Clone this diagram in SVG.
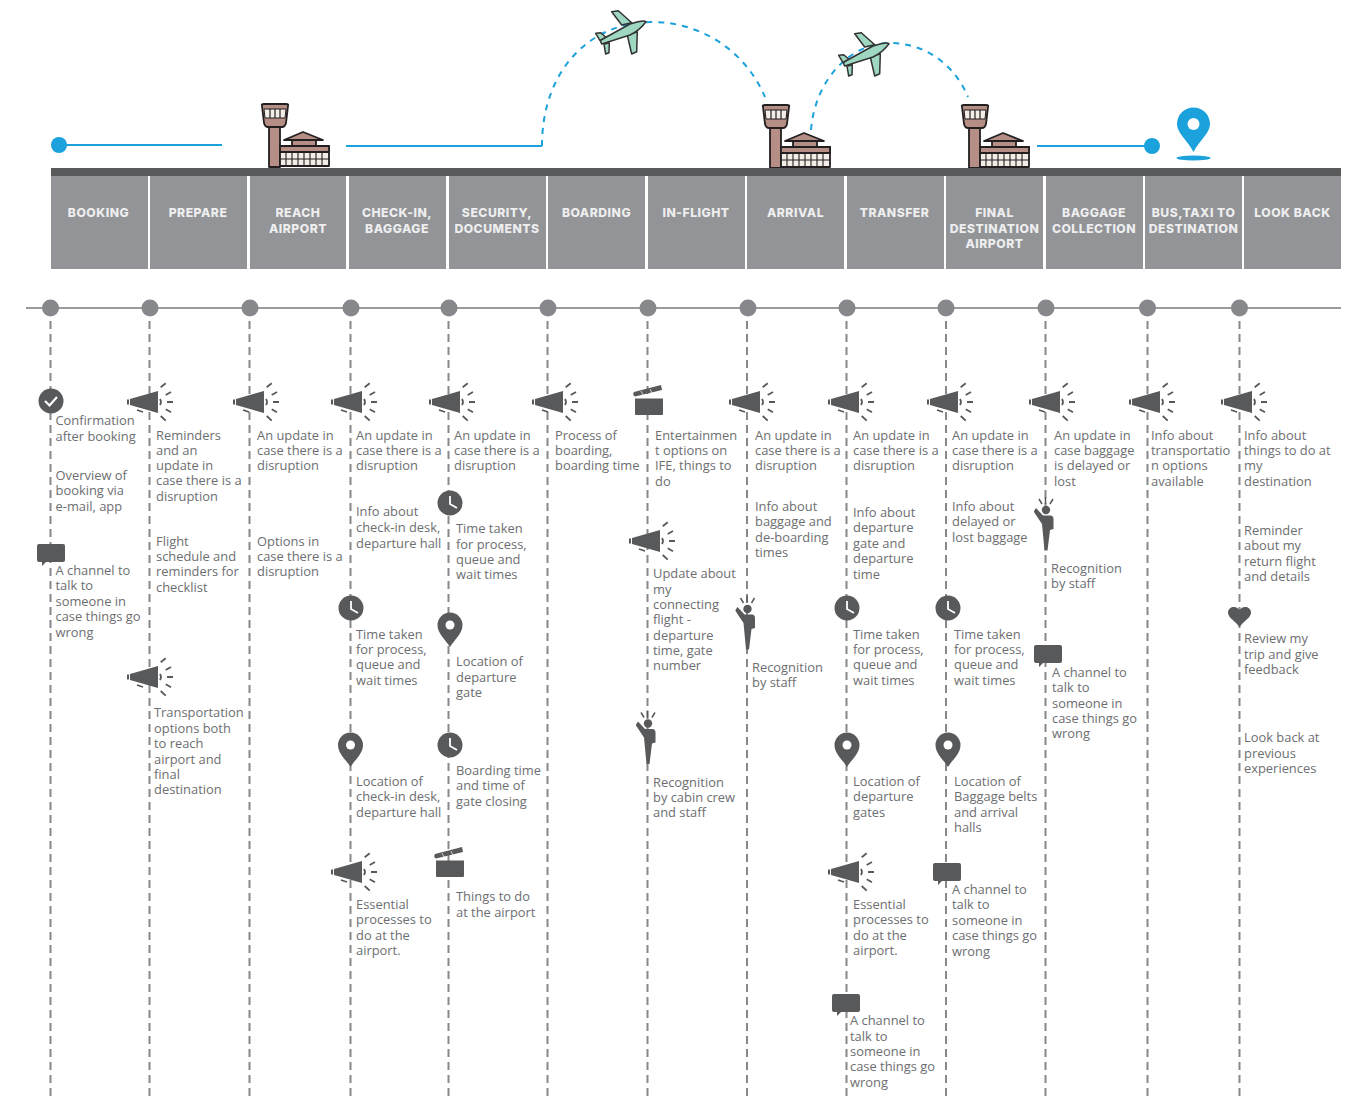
<svg xmlns="http://www.w3.org/2000/svg" xmlns:xlink="http://www.w3.org/1999/xlink" width="1351" height="1101" viewBox="0 0 1351 1101">
<style>
.t{font-family:"Open Sans","Liberation Sans",sans-serif;font-size:12.9px;fill:#6d6e71}
.h{font-family:Inter,"Liberation Sans",sans-serif;font-size:12.2px;font-weight:800;letter-spacing:.5px;fill:#eeeeef;text-anchor:middle}
.box{fill:#929497}
.dot{fill:#87888b}
.col{stroke:#87888b;stroke-width:2;stroke-dasharray:8 5;fill:none}
.fly{stroke:#1ba1dc;stroke-width:2;fill:none}
.dash{stroke-dasharray:6 6}
.ic{fill:#58595b}
.st{stroke:#231f20;stroke-width:1.8;stroke-linejoin:round}
.pl{fill:#9fd8c0;stroke:#333;stroke-width:1.500;stroke-linejoin:round}
</style>
<defs>
<g id="mega"><path class="ic" d="M-31-2.500h2v5h-2zM-28-3L0-11V11L-28 3Z"/><path d="M2-3Q4 0 2 3M2.700-14.700L7.700-18.700M7.700-7L13-10M9 0H15M7.700 7.300L13 10.300M2.700 14L7.700 18.700M-21 8L-15 10" stroke="#58595b" stroke-width="1.800" fill="none"/></g>
<g id="clock"><circle class="ic" r="12.500"/><path d="M0-7V1L7 5" stroke="#fff" stroke-width="1.800" fill="none"/></g>
<g id="pin"><path class="ic" d="M0 17C-4 10-12.500 4-12.500-5A12.500 12.500 0 0 1 12.500-5C12.500 4 4 10 0 17Z"/><circle cx="0" cy="-5" r="4.500" fill="#fff"/></g>
<path id="bubble" class="ic" d="M-12-9H12Q14-9 14-7V7Q14 9 12 9H-5L-9 13V9H-12Q-14 9-14 7V-7Q-14-9-12-9Z"/>
<g id="clap"><path class="ic" d="M-13-2.500H15V13Q15 14 14 14H-12Q-13 14-13 13ZM-14-9L13-16L14-11L-13-4.500Q-16-6-14-9Z"/><path d="M-7-10L-5-6M2-12L4-8" stroke="#fff" stroke-width=".7"/></g>
<g id="person"><circle class="ic" r="4.200"/><path class="ic" d="M-12 1L-10-2L-3 5.500H5Q7.500 6 7.500 9V19L4 20L1.500 40.500H-1.500L-4 14L-12 2Z"/><path d="M-7-11L-4-6M-.5-13V-6M7-11L4-6" stroke="#58595b" stroke-width="1.500"/></g>
<g id="tower">
<path class="st" d="M8 23H19V63H8Z" fill="#b58f85"/>
<path class="st" d="M1 2Q0 0 3 0H25Q28 0 27 2L25 19Q24 23 21 23H7Q4 23 3 19Z" fill="#b58f85"/>
<path d="M3 5H25L24 14H4Z" fill="#f2ede6" stroke="#231f20" stroke-width="1"/>
<path d="M9 5V14M14 5V14M19 5V14" stroke="#231f20" stroke-width="1.200"/>
<path class="st" d="M19 42H68V62H19Z" fill="#f2ede6"/>
<path class="st" d="M19 42H68V48H19Z" fill="#b58f85"/>
<path class="st" d="M31 36H55V42H31Z" fill="#b58f85"/>
<path class="st" d="M23 36L42 28L62 36Z" fill="#b58f85"/>
<path d="M25 48V62M31 48V62M37 48V62M43 48V62M49 48V62M55 48V62M61 48V62M19 55H68" stroke="#231f20" stroke-width="1.100"/>
</g>
<g id="plane">
<path class="pl" d="M611.700 11.700L618.300 10.700L631.700 22.700L621.700 25Z"/>
<path class="pl" d="M627.300 35L637.300 31.700L636.700 51.700L631.700 54Z"/>
<path class="pl" d="M595.700 33.300L600.700 32.700L606 37.300L600 40.700ZM604 44.300L609.300 42.700L609 52.700L605.700 54Z"/>
<path class="pl" d="M601.700 44L630 35Q640 30 646 21.700Q644 19.500 630 24L601 40Q600 42 601.700 44Z"/>
</g>
</defs>

<rect width="1351" height="1101" fill="#fff"/>

<g id="connectors">
<path d="M26 308H1341" stroke="#999a9c" stroke-width="2"/>
<path class="col" d="M50.500 308V1098M149.500 308V1098M249.500 308V1098M350.500 308V1098M448.500 308V1098M547.500 308V1098M647.500 308V1098M747 308V1098M846.500 308V1098M946 308V1098M1045.500 308V1098M1147.500 308V1098M1239.500 308V1098"/>
<path class="fly" d="M59 145H222M346 146H542M1037 146H1152"/>
<path class="fly dash" d="M542 146C542 70 590 22 652 22C700 22 745 50 765 97M811 130C815 80 850 43 890 43C925 43 955 65 968 97"/>
</g>

<g id="journey">
<circle cx="59" cy="145" r="8" fill="#1ba1dc"/>
<circle cx="1152" cy="146" r="8" fill="#1ba1dc"/>
<use xlink:href="#tower" href="#tower" x="261" y="104"/>
<use xlink:href="#tower" href="#tower" x="762" y="105"/>
<use xlink:href="#tower" href="#tower" x="961" y="105"/>
<use xlink:href="#plane" href="#plane"/>
<use xlink:href="#plane" href="#plane" x="243" y="22"/>
<path d="M1193.500 152C1188 141 1177 133 1177 124A16.500 16.500 0 0 1 1210 124C1210 133 1199 141 1193.500 152Z" fill="#1ba1dc"/>
<circle cx="1193.500" cy="124" r="6" fill="#fff"/>
<ellipse cx="1193.500" cy="158" rx="17" ry="2.500" fill="#1ba1dc"/>
<rect x="51" y="168" width="1290" height="8" fill="#58595b"/>
</g>

<g id="stage-1"><circle class="dot" cx="50.500" cy="308" r="8.500"/><rect class="box" x="51" y="176" width="97" height="93"/><text class="h" x="98.500" y="217">BOOKING</text>
<circle class="ic" cx="51" cy="401" r="12.500"/><path d="M45 401L49.500 405.500L57 397" stroke="#fff" stroke-width="2.200" fill="none"/>
<use href="#bubble" x="51" y="553"/>
<text class="t" x="55.500"><tspan x="55.500" y="425">Confirmation</tspan><tspan x="55.500" y="440.500">after booking</tspan><tspan x="55.500" y="480">Overview of</tspan><tspan x="55.500" y="495">booking via</tspan><tspan x="55.500" y="511">e-mail, app</tspan><tspan x="55.500" y="575">A channel to</tspan><tspan x="55.500" y="590">talk to</tspan><tspan x="55.500" y="606">someone in</tspan><tspan x="55.500" y="621">case things go</tspan><tspan x="55.500" y="637">wrong</tspan></text></g>

<g id="stage-2"><circle class="dot" cx="150" cy="308" r="8.500"/><rect class="box" x="150" y="176" width="97" height="93"/><text class="h" x="198" y="217">PREPARE</text>
<use href="#mega" x="158" y="402"/><use href="#mega" x="158" y="677"/>
<text class="t"><tspan x="156" y="440">Reminders</tspan><tspan x="156" y="455">and an</tspan><tspan x="156" y="470">update in</tspan><tspan x="156" y="485">case there is a</tspan><tspan x="156" y="501">disruption</tspan><tspan x="156" y="546">Flight</tspan><tspan x="156" y="561">schedule and</tspan><tspan x="156" y="576">reminders for</tspan><tspan x="156" y="592">checklist</tspan><tspan x="154" y="717">Transportation</tspan><tspan x="154" y="733">options both</tspan><tspan x="154" y="748">to reach</tspan><tspan x="154" y="764">airport and</tspan><tspan x="154" y="779">final</tspan><tspan x="154" y="794">destination</tspan></text></g>

<g id="stage-3"><circle class="dot" cx="250" cy="308" r="8.500"/><rect class="box" x="250" y="176" width="96" height="93"/><text class="h"><tspan x="298" y="217">REACH</tspan><tspan x="298" y="233">AIRPORT</tspan></text>
<use href="#mega" x="264" y="402"/>
<text class="t"><tspan x="257" y="440">An update in</tspan><tspan x="257" y="455">case there is a</tspan><tspan x="257" y="470">disruption</tspan><tspan x="257" y="546">Options in</tspan><tspan x="257" y="561">case there is a</tspan><tspan x="257" y="576">disruption</tspan></text></g>

<g id="stage-4"><circle class="dot" cx="351" cy="308" r="8.500"/><rect class="box" x="349" y="176" width="97" height="93"/><text class="h"><tspan x="397" y="217">CHECK-IN,</tspan><tspan x="397" y="233">BAGGAGE</tspan></text>
<use href="#mega" x="362" y="402"/><use href="#clock" x="351" y="608"/><use href="#pin" x="350.500" y="750"/><use href="#mega" x="362" y="872"/>
<text class="t"><tspan x="356" y="440">An update in</tspan><tspan x="356" y="455">case there is a</tspan><tspan x="356" y="470">disruption</tspan><tspan x="356" y="516">Info about</tspan><tspan x="356" y="532">check-in desk,</tspan><tspan x="356" y="548">departure hall</tspan><tspan x="356" y="639">Time taken</tspan><tspan x="356" y="654">for process,</tspan><tspan x="356" y="669">queue and</tspan><tspan x="356" y="685">wait times</tspan><tspan x="356" y="786">Location of</tspan><tspan x="356" y="801">check-in desk,</tspan><tspan x="356" y="817">departure hall</tspan><tspan x="356" y="909">Essential</tspan><tspan x="356" y="924">processes to</tspan><tspan x="356" y="940">do at the</tspan><tspan x="356" y="955">airport.</tspan></text></g>

<g id="stage-5"><circle class="dot" cx="449" cy="308" r="8.500"/><rect class="box" x="449" y="176" width="97" height="93"/><text class="h"><tspan x="497" y="217">SECURITY,</tspan><tspan x="497" y="233">DOCUMENTS</tspan></text>
<use href="#mega" x="460" y="402"/><use href="#clock" x="450" y="503"/><use href="#pin" x="450" y="630"/><use href="#clock" x="450" y="745"/><use href="#clap" x="449" y="863"/>
<text class="t"><tspan x="454" y="440">An update in</tspan><tspan x="454" y="455">case there is a</tspan><tspan x="454" y="470">disruption</tspan><tspan x="456" y="533">Time taken</tspan><tspan x="456" y="549">for process,</tspan><tspan x="456" y="564">queue and</tspan><tspan x="456" y="579">wait times</tspan><tspan x="456" y="666">Location of</tspan><tspan x="456" y="682">departure</tspan><tspan x="456" y="697">gate</tspan><tspan x="456" y="775">Boarding time</tspan><tspan x="456" y="790">and time of</tspan><tspan x="456" y="806">gate closing</tspan><tspan x="456" y="901">Things to do</tspan><tspan x="456" y="917">at the airport</tspan></text></g>

<g id="stage-6"><circle class="dot" cx="548" cy="308" r="8.500"/><rect class="box" x="548" y="176" width="97" height="93"/><text class="h" x="596.500" y="217">BOARDING</text>
<use href="#mega" x="563" y="402"/>
<text class="t"><tspan x="555" y="440">Process of</tspan><tspan x="555" y="455">boarding,</tspan><tspan x="555" y="470">boarding time</tspan></text></g>

<g id="stage-7"><circle class="dot" cx="648" cy="308" r="8.500"/><rect class="box" x="648" y="176" width="97" height="93"/><text class="h" x="696" y="217">IN-FLIGHT</text>
<use href="#clap" x="648" y="401"/><use href="#mega" x="660" y="541"/><use href="#person" x="648" y="723.500"/>
<text class="t"><tspan x="655" y="440">Entertainmen</tspan><tspan x="655" y="455">t options on</tspan><tspan x="655" y="470">IFE, things to</tspan><tspan x="655" y="486">do</tspan><tspan x="653" y="578">Update about</tspan><tspan x="653" y="594">my</tspan><tspan x="653" y="609">connecting</tspan><tspan x="653" y="624">flight -</tspan><tspan x="653" y="640">departure</tspan><tspan x="653" y="655">time, gate</tspan><tspan x="653" y="670">number</tspan><tspan x="653" y="787">Recognition</tspan><tspan x="653" y="802">by cabin crew</tspan><tspan x="653" y="817">and staff</tspan></text></g>

<g id="stage-8"><circle class="dot" cx="748" cy="308" r="8.500"/><rect class="box" x="747" y="176" width="97" height="93"/><text class="h" x="795.500" y="217">ARRIVAL</text>
<use href="#mega" x="760" y="402"/><use href="#person" x="747.500" y="609"/>
<text class="t"><tspan x="755" y="440">An update in</tspan><tspan x="755" y="455">case there is a</tspan><tspan x="755" y="470">disruption</tspan><tspan x="755" y="511">Info about</tspan><tspan x="755" y="526">baggage and</tspan><tspan x="755" y="542">de-boarding</tspan><tspan x="755" y="557">times</tspan><tspan x="752" y="672">Recognition</tspan><tspan x="752" y="687">by staff</tspan></text></g>

<g id="stage-9"><circle class="dot" cx="847" cy="308" r="8.500"/><rect class="box" x="847" y="176" width="97" height="93"/><text class="h" x="894.500" y="217">TRANSFER</text>
<use href="#mega" x="859" y="402"/><use href="#clock" x="847" y="608"/><use href="#pin" x="847" y="750"/><use href="#mega" x="859" y="872"/><use href="#bubble" x="846" y="1003"/>
<text class="t"><tspan x="853" y="440">An update in</tspan><tspan x="853" y="455">case there is a</tspan><tspan x="853" y="470">disruption</tspan><tspan x="853" y="517">Info about</tspan><tspan x="853" y="532">departure</tspan><tspan x="853" y="548">gate and</tspan><tspan x="853" y="563">departure</tspan><tspan x="853" y="579">time</tspan><tspan x="853" y="639">Time taken</tspan><tspan x="853" y="654">for process,</tspan><tspan x="853" y="669">queue and</tspan><tspan x="853" y="685">wait times</tspan><tspan x="853" y="786">Location of</tspan><tspan x="853" y="801">departure</tspan><tspan x="853" y="817">gates</tspan><tspan x="853" y="909">Essential</tspan><tspan x="853" y="924">processes to</tspan><tspan x="853" y="940">do at the</tspan><tspan x="853" y="955">airport.</tspan><tspan x="850" y="1025">A channel to</tspan><tspan x="850" y="1041">talk to</tspan><tspan x="850" y="1056">someone in</tspan><tspan x="850" y="1071">case things go</tspan><tspan x="850" y="1087">wrong</tspan></text></g>

<g id="stage-10"><circle class="dot" cx="946" cy="308" r="8.500"/><rect class="box" x="946" y="176" width="97" height="93"/><text class="h"><tspan x="994.500" y="217">FINAL</tspan><tspan x="994.500" y="233">DESTINATION</tspan><tspan x="994.500" y="248">AIRPORT</tspan></text>
<use href="#mega" x="958" y="402"/><use href="#clock" x="948" y="608"/><use href="#pin" x="948" y="750"/><use href="#bubble" x="947" y="872"/>
<text class="t"><tspan x="952" y="440">An update in</tspan><tspan x="952" y="455">case there is a</tspan><tspan x="952" y="470">disruption</tspan><tspan x="952" y="511">Info about</tspan><tspan x="952" y="526">delayed or</tspan><tspan x="952" y="542">lost baggage</tspan><tspan x="954" y="639">Time taken</tspan><tspan x="954" y="654">for process,</tspan><tspan x="954" y="669">queue and</tspan><tspan x="954" y="685">wait times</tspan><tspan x="954" y="786">Location of</tspan><tspan x="954" y="801">Baggage belts</tspan><tspan x="954" y="817">and arrival</tspan><tspan x="954" y="832">halls</tspan><tspan x="952" y="894">A channel to</tspan><tspan x="952" y="909">talk to</tspan><tspan x="952" y="925">someone in</tspan><tspan x="952" y="940">case things go</tspan><tspan x="952" y="956">wrong</tspan></text></g>

<g id="stage-11"><circle class="dot" cx="1046" cy="308" r="8.500"/><rect class="box" x="1046" y="176" width="97" height="93"/><text class="h"><tspan x="1094" y="217">BAGGAGE</tspan><tspan x="1094" y="233">COLLECTION</tspan></text>
<use href="#mega" x="1060" y="402"/><use href="#person" x="1046" y="510"/><use href="#bubble" x="1048" y="654"/>
<text class="t"><tspan x="1054" y="440">An update in</tspan><tspan x="1054" y="455">case baggage</tspan><tspan x="1054" y="470">is delayed or</tspan><tspan x="1054" y="486">lost</tspan><tspan x="1051" y="573">Recognition</tspan><tspan x="1051" y="588">by staff</tspan><tspan x="1052" y="677">A channel to</tspan><tspan x="1052" y="692">talk to</tspan><tspan x="1052" y="708">someone in</tspan><tspan x="1052" y="723">case things go</tspan><tspan x="1052" y="738">wrong</tspan></text></g>

<g id="stage-12"><circle class="dot" cx="1147.500" cy="308" r="8.500"/><rect class="box" x="1145" y="176" width="97" height="93"/><text class="h"><tspan x="1193.500" y="217">BUS,TAXI TO</tspan><tspan x="1193.500" y="233">DESTINATION</tspan></text>
<use href="#mega" x="1160" y="402"/>
<text class="t"><tspan x="1151" y="440">Info about</tspan><tspan x="1151" y="455">transportatio</tspan><tspan x="1151" y="470">n options</tspan><tspan x="1151" y="486">available</tspan></text></g>

<g id="stage-13"><circle class="dot" cx="1239.500" cy="308" r="8.500"/><rect class="box" x="1244" y="176" width="97" height="93"/><text class="h" x="1292.500" y="217">LOOK BACK</text>
<use href="#mega" x="1252" y="402"/>
<path class="ic" d="M1239.500 627C1235.500 621 1228 618 1228 612.500C1228 609 1231 607 1234 607C1236.500 607 1238.500 608.500 1239.500 610C1240.500 608.500 1242.500 607 1245 607C1248 607 1251 609 1251 612.500C1251 618 1243.500 621 1239.500 627Z"/>
<text class="t"><tspan x="1244" y="440">Info about</tspan><tspan x="1244" y="455">things to do at</tspan><tspan x="1244" y="470">my</tspan><tspan x="1244" y="486">destination</tspan><tspan x="1244" y="535">Reminder</tspan><tspan x="1244" y="550">about my</tspan><tspan x="1244" y="566">return flight</tspan><tspan x="1244" y="581">and details</tspan><tspan x="1244" y="643">Review my</tspan><tspan x="1244" y="659">trip and give</tspan><tspan x="1244" y="674">feedback</tspan><tspan x="1244" y="742">Look back at</tspan><tspan x="1244" y="758">previous</tspan><tspan x="1244" y="773">experiences</tspan></text></g>
</svg>
